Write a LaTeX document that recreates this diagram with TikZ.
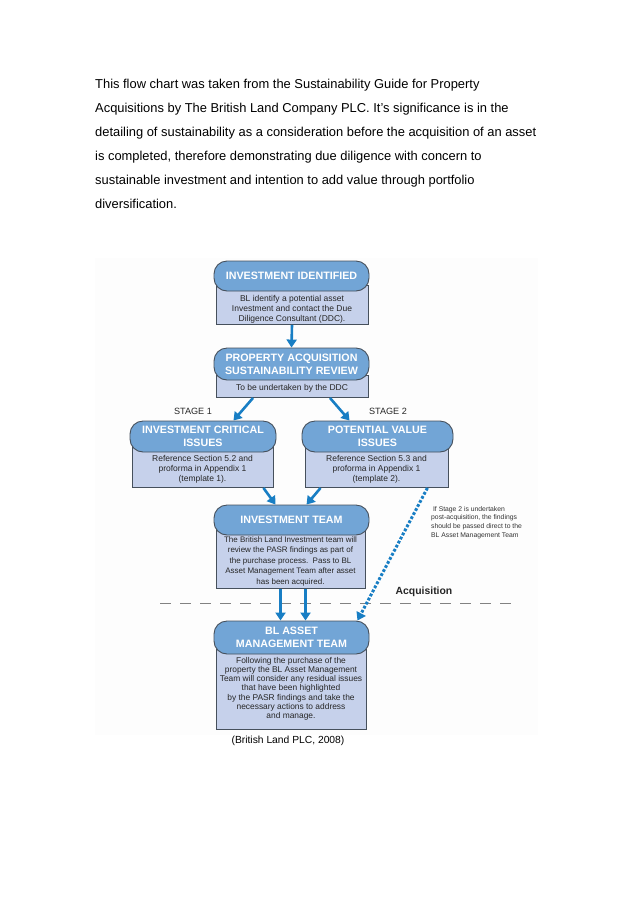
\documentclass[tikz,border=0pt]{standalone}
\usepackage{fontspec}
\setmainfont{Liberation Sans}
\usetikzlibrary{arrows.meta,calc}
\definecolor{headblue}{RGB}{114,165,214}
\definecolor{bodyblue}{RGB}{198,209,235}
\definecolor{edgegray}{RGB}{70,80,92}
\definecolor{arrowblue}{RGB}{24,126,196}
\definecolor{dashgray}{RGB}{130,130,130}
\definecolor{figbg}{RGB}{253,253,253}
\newcommand{\btext}[2]{\raisebox{-#1}[0pt][0pt]{\begin{tabular}{@{}c@{}}#2\end{tabular}}}
\tikzset{
  head/.style={draw=edgegray, line width=0.9pt, fill=headblue, rounded corners=13pt,
    text=white, font=\bfseries\fontsize{10.7}{13.3}\selectfont, align=center, inner sep=1pt},
  body/.style={draw=edgegray, line width=0.9pt, fill=bodyblue, text=black!85,
    align=center, inner sep=1pt},
  flow/.style={draw=arrowblue, line width=2.6pt, -{Triangle[width=10pt,length=8pt]}},
  dotflow/.style={draw=arrowblue, line width=3pt, dash pattern=on 2.8pt off 1.8pt,
    -{Triangle[width=10pt,length=8pt]}},
  para/.style={anchor=base west, inner sep=0pt, font=\fontsize{12.9}{14}\selectfont},
  stagelbl/.style={font=\fontsize{9.1}{11}\selectfont, text=black!85, inner sep=0pt},
}
\begin{document}
\begin{tikzpicture}[x=1pt,y=-1pt]
\useasboundingbox (0,0) rectangle (638,903);
\fill[white] (0,0) rectangle (638,903);
\fill[figbg] (95,258) rectangle (538,735);

% paragraph
\node[para] (p1) at (95,88) {This flow chart was taken from the Sustainability Guide for Property};
\node[para] (p2) at (95,112.1) {Acquisitions by The British Land Company PLC. It’s significance is in the};
\node[para] (p3) at (95,136.2) {detailing of sustainability as a consideration before the acquisition of an asset};
\node[para] (p4) at (95,160.3) {is completed, therefore demonstrating due diligence with concern to};
\node[para] (p5) at (95,184.4) {sustainable investment and intention to add value through portfolio};
\node[para] (p6) at (95,208.5) {diversification.};

% box 1
\node[body, minimum width=152pt, minimum height=39pt, font=\fontsize{8.5}{10}\selectfont] (b1) at (292,305)
  {\btext{6.5pt}{BL identify a potential asset\\Investment and contact the Due\\Diligence Consultant (DDC).}};
\node[head, minimum width=155pt, minimum height=30pt] (h1) at (291.5,276) {INVESTMENT IDENTIFIED};

% box 2
\node[body, minimum width=152pt, minimum height=22pt, font=\fontsize{8.5}{10}\selectfont] (b2) at (292,386.5)
  {\btext{4pt}{To be undertaken by the DDC}};
\node[head, minimum width=155pt, minimum height=32pt] (h2) at (291.5,364) {PROPERTY ACQUISITION\\SUSTAINABILITY REVIEW};

% box 3 left
\node[body, minimum width=141pt, minimum height=41pt, font=\fontsize{8.5}{10}\selectfont] (b3l) at (202.5,467)
  {\btext{4.5pt}{Reference Section 5.2 and\\proforma in Appendix 1\\(template 1).}};
\node[head, minimum width=146pt, minimum height=31pt] (h3l) at (203,436.5) {INVESTMENT CRITICAL\\ISSUES};

% box 3 right
\node[body, minimum width=143pt, minimum height=41pt, font=\fontsize{8.5}{10}\selectfont] (b3r) at (376.5,467)
  {\btext{4.5pt}{Reference Section 5.3 and\\proforma in Appendix 1\\(template 2).}};
\node[head, minimum width=151pt, minimum height=31pt] (h3r) at (377.5,436.5) {POTENTIAL VALUE\\ISSUES};

% box 4
\node[body, minimum width=149pt, minimum height=59pt, font=\fontsize{8}{10.5}\selectfont] (b4) at (290.5,559)
  {\btext{4pt}{The British Land Investment team will\\review the PASR findings as part of\\the purchase process.\ \ Pass to BL\\Asset Management Team after asset\\has been acquired.}};
\node[head, minimum width=155pt, minimum height=30pt] (h4) at (291.5,520) {INVESTMENT TEAM};

% box 5
\node[body, minimum width=150pt, minimum height=80pt, font=\fontsize{8.4}{9.2}\selectfont] (b5) at (291,689)
  {\btext{2pt}{Following the purchase of the\\property the BL Asset Management\\Team will consider any residual issues\\that have been highlighted\\by the PASR findings and take the\\necessary actions to address\\and manage.}};
\node[head, minimum width=155pt, minimum height=33pt] (h5) at (291.5,637.5) {BL ASSET\\MANAGEMENT TEAM};

% labels
\node[stagelbl] (s1) at (193,411) {STAGE 1};
\node[stagelbl] (s2) at (388,411) {STAGE 2};
\node[font=\bfseries\fontsize{10.4}{12}\selectfont, text=black!85, inner sep=0pt] (acq) at (424,592) {Acquisition};
\node[anchor=north west, inner sep=0pt, align=left, text=black!80, font=\fontsize{6.8}{8.7}\selectfont] (note) at (431,506)
  {\ If Stage 2 is undertaken\\post-acquisition, the findings\\should be passed direct to the\\BL Asset Management Team};
\node[font=\fontsize{10.3}{12}\selectfont, inner sep=0pt] (cite) at (288,741) {(British Land PLC, 2008)};

% dashed acquisition line
\coordinate (dl) at (160,603);
\coordinate (dr) at (512,603);
\draw[dashgray, line width=1pt, dash pattern=on 11pt off 9pt] (dl) -- (dr);

% arrows
\draw[flow] (b1.south) -- (h2.north);
\draw[flow] ([xshift=-39pt]b2.south) -- ([xshift=-43pt]h3l.north east);
\draw[flow] ([xshift=38pt]b2.south) -- ([xshift=48pt]h3r.north west);
\draw[flow] ([xshift=-10pt]b3l.south east) -- ([xshift=62pt]h4.north west);
\draw[flow] ([xshift=16pt]b3r.south west) -- ([xshift=93pt]h4.north west);
\draw[flow] ([xshift=-10pt]b4.south) -- ([xshift=-11pt]h5.north);
\draw[flow] ([xshift=15pt]b4.south) -- ([xshift=14pt]h5.north);
\draw[dotflow] ([xshift=-21pt]b3r.south east) -- ([xshift=-12pt]h5.north east);
\end{tikzpicture}
\end{document}
